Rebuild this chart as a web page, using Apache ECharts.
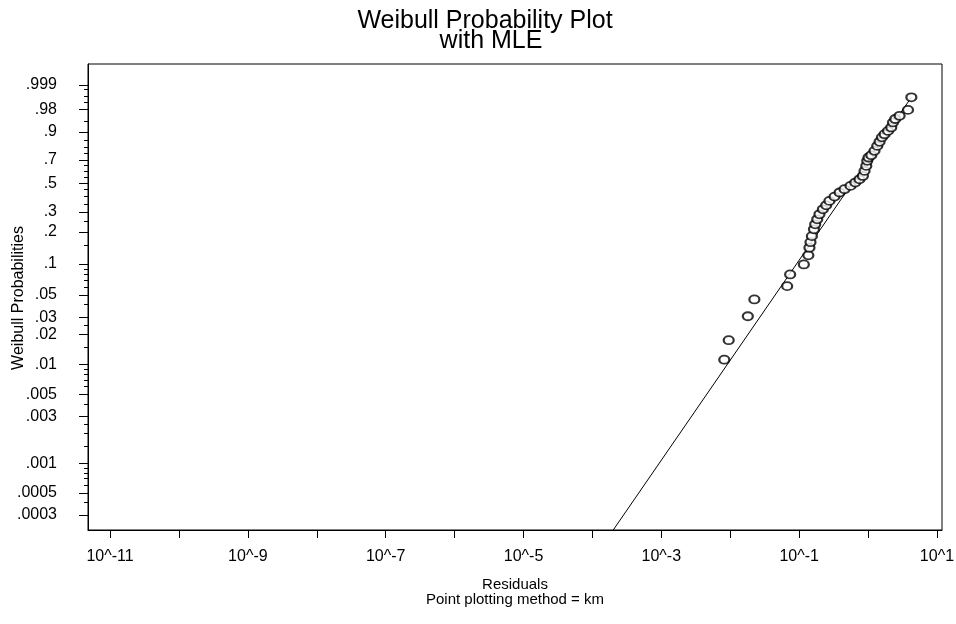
<!DOCTYPE html>
<html>
<head>
<meta charset="utf-8">
<script src="https://cdn.jsdelivr.net/npm/echarts@6/dist/echarts.min.js"></script>
<style>
html,body{margin:0;padding:0;background:#fff;}
#chart{width:956px;height:624px;}
</style>
</head>
<body>
<div id="chart"></div>
<script>
// ---- data ----
const residuals = [0.0082, 0.0095, 0.0180, 0.0224, 0.0670, 0.0740, 0.117, 0.136, 0.141, 0.146,
  0.153, 0.164, 0.171, 0.183, 0.197, 0.221, 0.247, 0.275, 0.326, 0.386,
  0.455, 0.556, 0.652, 0.751, 0.841, 0.889, 0.942, 0.973, 1.016, 1.114,
  1.24, 1.36, 1.47, 1.59, 1.74, 1.95, 2.17, 2.30, 2.48, 2.87, 3.80, 4.25];
const probabilities = [0.0112, 0.0176, 0.0306, 0.0450, 0.0609, 0.0793, 0.0991, 0.121, 0.143, 0.161,
  0.183, 0.211, 0.234, 0.259, 0.286, 0.315, 0.340, 0.369, 0.399, 0.429,
  0.454, 0.480, 0.507, 0.534, 0.562, 0.605, 0.648, 0.691, 0.719, 0.738,
  0.773, 0.811, 0.840, 0.869, 0.888, 0.906, 0.923, 0.944, 0.956, 0.9655, 0.979, 0.9944];
// fitted MLE line end points
const fitResiduals = [0.00020, 4.25];
const fitProbabilities = [0.00021, 0.9944];

const yLabelValues = [0.999, 0.98, 0.9, 0.7, 0.5, 0.3, 0.2, 0.1, 0.05, 0.03, 0.02, 0.01, 0.005, 0.003, 0.001, 0.0005, 0.0003];
const yLabelTexts = ['.999', '.98', '.9', '.7', '.5', '.3', '.2', '.1', '.05', '.03', '.02', '.01', '.005', '.003', '.001', '.0005', '.0003'];
const yMinorValues = [0.0004, 0.0006, 0.0007, 0.0008, 0.0009, 0.0015, 0.002, 0.0025, 0.004, 0.006, 0.007, 0.008, 0.009,
  0.015, 0.025, 0.04, 0.06, 0.07, 0.08, 0.09, 0.15, 0.25, 0.35, 0.4, 0.45, 0.55, 0.6, 0.65, 0.75, 0.8, 0.85, 0.95, 0.99, 0.995, 0.998];
const xTickExponents = [-11, -10, -9, -8, -7, -6, -5, -4, -3, -2, -1, 0, 1];
const xLabelExponents = [-11, -9, -7, -5, -3, -1, 1];

// ---- scale transforms ----
const wb = p => Math.log(-Math.log(1 - p));
const lg = x => Math.log10(x);

const FONT = "'Liberation Sans', Arial, sans-serif";
const yLabelW = yLabelValues.map(wb);

const chart = echarts.init(document.getElementById('chart'), null, {renderer: 'canvas'});
chart.setOption({
  backgroundColor: '#fff',
  animation: false,
  title: [
    {text: 'Weibull Probability Plot', left: 480, top: 4, textAlign: 'center',
     textStyle: {fontFamily: FONT, fontSize: 25, fontWeight: 'normal', color: '#000'}},
    {text: 'with MLE', left: 486, top: 24, textAlign: 'center',
     textStyle: {fontFamily: FONT, fontSize: 25, fontWeight: 'normal', color: '#000'}}
  ],
  graphic: [
    {type: 'text', x: 19, y: 298, rotation: Math.PI / 2,
     style: {text: 'Weibull Probabilities', font: "16px 'Liberation Sans', Arial, sans-serif",
       fill: '#000', align: 'center', verticalAlign: 'middle'}}
  ],
  grid: {left: 88, right: 14, top: 64, bottom: 94, outerBoundsMode: 'none', containLabel: false,
    show: true, borderColor: '#000', borderWidth: 1, backgroundColor: 'transparent'},
  xAxis: {
    type: 'value', min: -11.32, max: 1.073,
    name: 'Residuals\nPoint plotting method = km', nameLocation: 'middle', nameGap: 47,
    nameTextStyle: {fontFamily: FONT, fontSize: 15, color: '#000', lineHeight: 15},
    axisLine: {show: true, onZero: false, lineStyle: {color: '#000', width: 1}},
    axisTick: {show: true, inside: false, length: 8, customValues: xTickExponents, lineStyle: {color: '#000'}},
    axisLabel: {customValues: xLabelExponents, margin: 19, fontFamily: FONT, fontSize: 16, color: '#000',
      formatter: v => '10^' + Math.round(v)},
    splitLine: {show: false}
  },
  yAxis: [
    {
      type: 'value', min: -8.466, max: 2.424, position: 'left',
      axisLine: {show: true, onZero: false, lineStyle: {color: '#000', width: 1}},
      axisTick: {show: true, length: 9, customValues: yLabelW, lineStyle: {color: '#000'}},
      axisLabel: {customValues: yLabelW, margin: 31, fontFamily: FONT, fontSize: 16, color: '#000',
        formatter: v => {
          const i = yLabelW.findIndex(w => Math.abs(w - v) < 1e-6);
          return i >= 0 ? yLabelTexts[i] : '';
        }},
      splitLine: {show: false}
    },
    {
      type: 'value', min: -8.466, max: 2.424, position: 'left', offset: 0,
      axisLine: {show: false, onZero: false},
      axisTick: {show: true, length: 4, customValues: yMinorValues.map(wb), lineStyle: {color: '#000'}},
      axisLabel: {show: false},
      splitLine: {show: false}
    }
  ],
  series: [
    {
      type: 'line', xAxisIndex: 0, yAxisIndex: 0,
      data: fitResiduals.map((x, i) => [lg(x), wb(fitProbabilities[i])]),
      showSymbol: false, symbol: 'none',
      lineStyle: {color: '#000', width: 1}, clip: true, z: 2
    },
    {
      type: 'scatter', xAxisIndex: 0, yAxisIndex: 0,
      data: residuals.map((x, i) => [lg(x), wb(probabilities[i])]),
      symbol: 'emptyCircle', symbolSize: [10, 8],
      itemStyle: {color: '#000', borderColor: '#000', borderWidth: 1},
      z: 3
    }
  ]
});
</script>
</body>
</html>
